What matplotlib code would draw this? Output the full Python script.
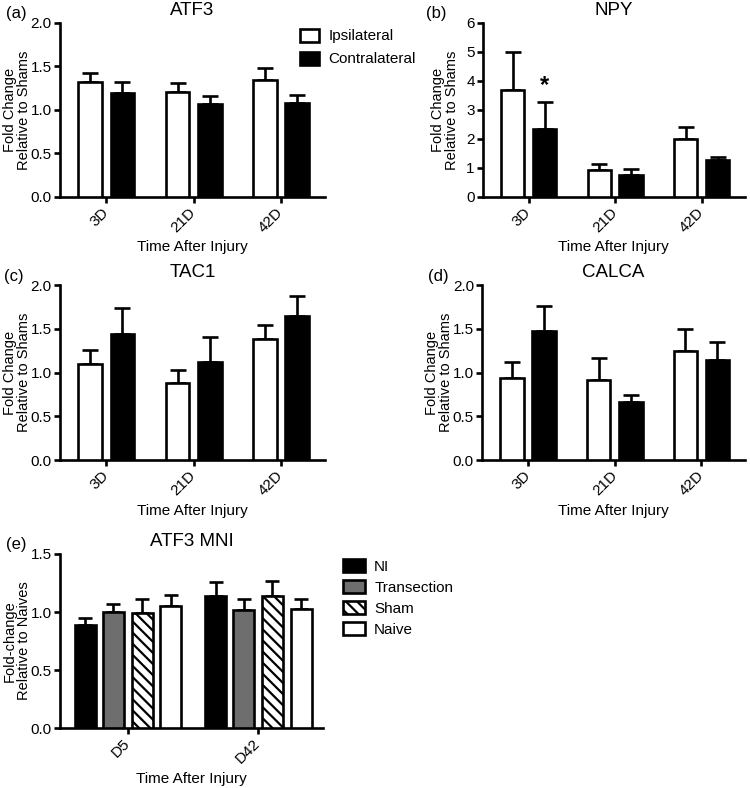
import numpy as np
import matplotlib.pyplot as plt
from matplotlib.patches import Patch

plt.rcParams['font.family'] = ['Liberation Sans', 'DejaVu Sans']
plt.rcParams['hatch.linewidth'] = 1.6

# ---- data ----
times = ['3D', '21D', '42D']
atf3_ipsi = [1.32, 1.21, 1.34]
atf3_ipsi_err = [0.10, 0.10, 0.14]
atf3_contra = [1.19, 1.07, 1.08]
atf3_contra_err = [0.13, 0.09, 0.09]

npy_ipsi = [3.67, 0.93, 2.00]
npy_ipsi_err = [1.33, 0.22, 0.42]
npy_contra = [2.33, 0.77, 1.28]
npy_contra_err = [0.95, 0.20, 0.10]

tac1_ipsi = [1.10, 0.88, 1.39]
tac1_ipsi_err = [0.16, 0.15, 0.16]
tac1_contra = [1.44, 1.12, 1.65]
tac1_contra_err = [0.30, 0.29, 0.23]

calca_ipsi = [0.94, 0.92, 1.25]
calca_ipsi_err = [0.18, 0.25, 0.25]
calca_contra = [1.48, 0.67, 1.15]
calca_contra_err = [0.28, 0.07, 0.20]

mni_times = ['D5', 'D42']
mni_groups = ['NI', 'Transection', 'Sham', 'Naive']
mni_vals = [[0.89, 1.14], [1.00, 1.02], [0.99, 1.14], [1.05, 1.03]]
mni_errs = [[0.06, 0.12], [0.07, 0.09], [0.12, 0.13], [0.10, 0.08]]

fig = plt.figure(figsize=(7.5, 7.88), dpi=100)

LW = 1.9
FS = 11
YFS = 10.5
TFS = 13.5


def style_ax(ax, ylim, yticks, fmt, xlabels, xlim, ylab_x):
    ax.set_ylim(*ylim)
    ax.set_yticks(yticks)
    ax.set_yticklabels([fmt.format(v) for v in yticks], fontsize=FS)
    ax.set_xlim(*xlim)
    ax.set_xticks(range(len(xlabels)))
    ax.set_xticklabels(xlabels, rotation=45, fontsize=FS, ha='right', va='center',
                       rotation_mode='anchor')
    for s in ['top', 'right']:
        ax.spines[s].set_visible(False)
    for s in ['left', 'bottom']:
        ax.spines[s].set_linewidth(LW)
    ax.tick_params(width=LW, length=4.5, direction='out', pad=1.5)
    ax.tick_params(axis='x', pad=5)
    ax.set_xlabel('Time After Injury', fontsize=FS, labelpad=4)
    ax.yaxis.set_label_coords(ylab_x, 0.5)


def pair_panel(rect, title, ipsi, ipsi_err, contra, contra_err, ylim, yticks, fmt, ylabel, ylab_x):
    ax = fig.add_axes(rect)
    x = np.arange(len(times))
    w = 0.27
    off = 0.185
    ax.bar(x - off, ipsi, w, color='white', edgecolor='black', linewidth=LW, zorder=3)
    ax.bar(x + off, contra, w, color='black', edgecolor='black', linewidth=LW, zorder=3)
    ax.errorbar(x - off, ipsi, yerr=[np.zeros(3), ipsi_err], fmt='none', ecolor='black',
                elinewidth=LW, capsize=6, capthick=LW, zorder=2)
    ax.errorbar(x + off, contra, yerr=[np.zeros(3), contra_err], fmt='none', ecolor='black',
                elinewidth=LW, capsize=6, capthick=LW, zorder=2)
    ax.set_ylabel(ylabel, fontsize=YFS, linespacing=1.0)
    style_ax(ax, ylim, yticks, fmt, times, (-0.53, 2.5), ylab_x)
    ax.set_title(title, fontsize=TFS, pad=6)
    return ax


ax_a = pair_panel([0.08, 0.75, 0.353, 0.221], 'ATF3', atf3_ipsi, atf3_ipsi_err,
                  atf3_contra, atf3_contra_err, (0, 2.0), [0, 0.5, 1.0, 1.5, 2.0], '{:.1f}',
                  'Fold Change\nRelative to Shams', -0.11)
ax_b = pair_panel([0.644, 0.75, 0.349, 0.221], 'NPY', npy_ipsi, npy_ipsi_err,
                  npy_contra, npy_contra_err, (0, 6), [0, 1, 2, 3, 4, 5, 6], '{:.0f}',
                  'Fold Change\nRelative to Shams', -0.09)
ax_b.text(0.185, npy_contra[0] + npy_contra_err[0] + 0.16, '*', ha='center', va='bottom',
          fontsize=17, fontweight='bold')
ax_c = pair_panel([0.08, 0.416, 0.353, 0.222], 'TAC1', tac1_ipsi, tac1_ipsi_err,
                  tac1_contra, tac1_contra_err, (0, 2.0), [0, 0.5, 1.0, 1.5, 2.0], '{:.1f}',
                  'Fold Change\nRelative to Shams', -0.11)
ax_d = pair_panel([0.643, 0.416, 0.35, 0.222], 'CALCA', calca_ipsi, calca_ipsi_err,
                  calca_contra, calca_contra_err, (0, 2.0), [0, 0.5, 1.0, 1.5, 2.0], '{:.1f}',
                  'Fold Change\nRelative to Shams', -0.11)

fig.legend(handles=[Patch(facecolor='white', edgecolor='black', linewidth=LW, label='Ipsilateral'),
                    Patch(facecolor='black', edgecolor='black', linewidth=LW, label='Contralateral')],
           loc='upper left', bbox_to_anchor=(0.388, 0.975), frameon=False, fontsize=FS,
           handlelength=1.25, handleheight=0.9, handletextpad=0.6, labelspacing=0.55,
           borderaxespad=0.2)

# ---- panel e ----
ax_e = fig.add_axes([0.08, 0.076, 0.351, 0.221])
xe = np.arange(len(mni_times))
we = 0.16
offs = [-0.325, -0.11, 0.11, 0.33]
faces = ['black', '#6e6e6e', 'white', 'white']
hatches = [None, None, '\\\\\\', None]
handles = []
for i, g in enumerate(mni_groups):
    ax_e.bar(xe + offs[i], mni_vals[i], we, color=faces[i], edgecolor='black', linewidth=LW,
             hatch=hatches[i], zorder=3)
    ax_e.errorbar(xe + offs[i], mni_vals[i], yerr=[np.zeros(2), mni_errs[i]], fmt='none',
                  ecolor='black', elinewidth=LW, capsize=5, capthick=LW, zorder=2)
    handles.append(Patch(facecolor=faces[i], edgecolor='black', linewidth=LW, hatch=hatches[i], label=g))
ax_e.set_ylabel('Fold-change\nRelative to Naives', fontsize=YFS, linespacing=1.0)
style_ax(ax_e, (0, 1.5), [0, 0.5, 1.0, 1.5], '{:.1f}', mni_times, (-0.52, 1.5), -0.11)
ax_e.set_title('ATF3 MNI', fontsize=TFS, pad=6)
fig.legend(handles=handles, loc='upper left', bbox_to_anchor=(0.445, 0.302), frameon=False,
           fontsize=FS, handlelength=1.45, handleheight=0.95, handletextpad=0.6, labelspacing=0.4,
           borderaxespad=0.2)

# panel letters
for lbl, (px, py) in zip(['(a)', '(b)', '(c)', '(d)', '(e)'],
                         [(0.008, 0.992), (0.568, 0.992), (0.005, 0.658), (0.571, 0.658), (0.008, 0.318)]):
    fig.text(px, py, lbl, fontsize=12, va='top', ha='left')

fig.savefig('out.png', dpi=100)
